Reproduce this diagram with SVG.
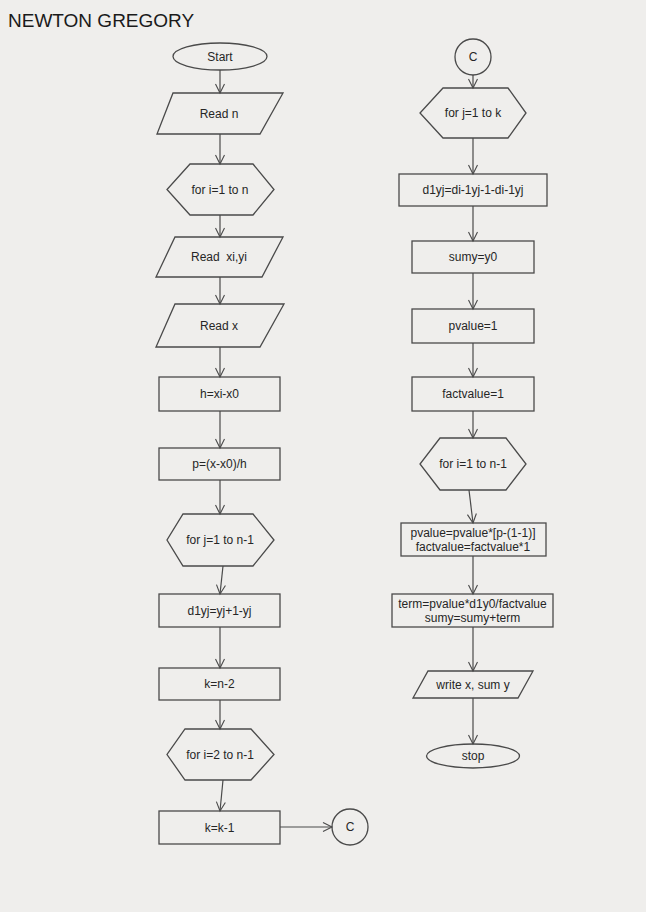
<svg xmlns="http://www.w3.org/2000/svg" width="646" height="912" viewBox="0 0 646 912">
<defs>
<marker id="arr" markerWidth="12" markerHeight="12" refX="10" refY="5" orient="auto" markerUnits="userSpaceOnUse">
<path d="M1,0.5 L10,5 L1,9.5" fill="none" stroke="#4a4a4a" stroke-width="1.1"/>
</marker>
<style>
.s{fill:none;stroke:#4a4a4a;stroke-width:1.3}
.t{font-family:"Liberation Sans",Arial,sans-serif;font-size:12px;fill:#262626;text-anchor:middle}
.c{fill:none;stroke:#4a4a4a;stroke-width:1.2;marker-end:url(#arr)}
</style>
</defs>
<rect width="646" height="912" fill="#efeeec"/>
<text x="8" y="27" style="font-family:'Liberation Sans',Arial,sans-serif;font-size:19px;fill:#1a1a1a">NEWTON GREGORY</text>

<g id="start"><ellipse class="s" cx="220" cy="56.5" rx="47" ry="13.5"/><text class="t" x="220" y="60.5">Start</text></g>
<g id="readn"><polygon class="s" points="173,93 283,93 260,134 157,134"/><text class="t" x="219" y="117.5">Read n</text></g>
<g id="fori1"><polygon class="s" points="190,164 253,164 274,189.5 253,215 190,215 167,189.5"/><text class="t" x="220" y="193.5">for i=1 to n</text></g>
<g id="readxy"><polygon class="s" points="175,237 283,237 262,277 156,277"/><text class="t" x="219" y="261" xml:space="preserve">Read  xi,yi</text></g>
<g id="readx"><polygon class="s" points="175,304 284,304 260,347 156,347"/><text class="t" x="219" y="330">Read x</text></g>
<g id="h"><rect class="s" x="159" y="377" width="121" height="34"/><text class="t" x="219.5" y="398">h=xi-x0</text></g>
<g id="p"><rect class="s" x="159" y="448" width="121" height="32"/><text class="t" x="219.5" y="468">p=(x-x0)/h</text></g>
<g id="forj"><polygon class="s" points="183,514 253,514 274,540 253,566 183,566 167,540"/><text class="t" x="220" y="544">for j=1 to n-1</text></g>
<g id="d1yj"><rect class="s" x="159" y="594" width="121" height="33"/><text class="t" x="219.5" y="614.5">d1yj=yj+1-yj</text></g>
<g id="k"><rect class="s" x="159" y="668" width="121" height="32"/><text class="t" x="219.5" y="688">k=n-2</text></g>
<g id="fori2"><polygon class="s" points="185,729 251,729 274,754.5 251,780 185,780 167,754.5"/><text class="t" x="220" y="758.5">for i=2 to n-1</text></g>
<g id="kk"><rect class="s" x="159" y="811" width="121" height="33"/><text class="t" x="219.5" y="831.5">k=k-1</text></g>
<g id="c1"><circle class="s" cx="350" cy="827" r="18"/><text class="t" x="350" y="831">C</text></g>

<g id="c2"><circle class="s" cx="473" cy="57" r="18"/><text class="t" x="473" y="61">C</text></g>
<g id="forjk"><polygon class="s" points="443,88 508,88 526,113 508,138 443,138 420,113"/><text class="t" x="473" y="117">for j=1 to k</text></g>
<g id="d1yj2"><rect class="s" x="399" y="174" width="148" height="32"/><text class="t" x="473" y="194">d1yj=di-1yj-1-di-1yj</text></g>
<g id="sumy"><rect class="s" x="412" y="241" width="122" height="32"/><text class="t" x="473" y="261">sumy=y0</text></g>
<g id="pv"><rect class="s" x="412" y="309" width="122" height="34"/><text class="t" x="473" y="330">pvalue=1</text></g>
<g id="fv"><rect class="s" x="412" y="377" width="122" height="34"/><text class="t" x="473" y="398">factvalue=1</text></g>
<g id="fori3"><polygon class="s" points="440,438 506,438 526,464 506,490 440,490 420,464"/><text class="t" x="473" y="468">for i=1 to n-1</text></g>
<g id="pvf"><rect class="s" x="401" y="523" width="145" height="33"/><text class="t" x="473" y="537">pvalue=pvalue*[p-(1-1)]</text><text class="t" x="473" y="551">factvalue=factvalue*1</text></g>
<g id="term"><rect class="s" x="392" y="594" width="161" height="33"/><text class="t" x="472.5" y="608">term=pvalue*d1y0/factvalue</text><text class="t" x="472.5" y="622">sumy=sumy+term</text></g>
<g id="write"><polygon class="s" points="428,671 533,671 518,698 413,698"/><text class="t" x="473" y="689">write x, sum y</text></g>
<g id="stop"><ellipse class="s" cx="473" cy="756" rx="46.5" ry="12"/><text class="t" x="473" y="760">stop</text></g>

<g id="connectors">
<line class="c" x1="220" y1="70" x2="220" y2="93"/>
<line class="c" x1="220" y1="134" x2="220" y2="164"/>
<line class="c" x1="220" y1="215" x2="220" y2="237"/>
<line class="c" x1="220" y1="277" x2="220" y2="304"/>
<line class="c" x1="220" y1="347" x2="220" y2="377"/>
<line class="c" x1="220" y1="411" x2="220" y2="448"/>
<line class="c" x1="220" y1="480" x2="220" y2="514"/>
<line class="c" x1="223" y1="566" x2="220" y2="594"/>
<line class="c" x1="220" y1="627" x2="220" y2="668"/>
<line class="c" x1="220" y1="700" x2="220" y2="729"/>
<line class="c" x1="223" y1="780" x2="220" y2="811"/>
<line class="c" x1="280" y1="827" x2="332" y2="827"/>
<line class="c" x1="473" y1="75" x2="473" y2="88"/>
<line class="c" x1="473" y1="138" x2="473" y2="174"/>
<line class="c" x1="473" y1="206" x2="473" y2="241"/>
<line class="c" x1="473" y1="273" x2="473" y2="309"/>
<line class="c" x1="473" y1="343" x2="473" y2="377"/>
<line class="c" x1="473" y1="411" x2="473" y2="438"/>
<line class="c" x1="469" y1="490" x2="473" y2="523"/>
<line class="c" x1="473" y1="556" x2="473" y2="594"/>
<line class="c" x1="473" y1="627" x2="473" y2="671"/>
<line class="c" x1="473" y1="698" x2="473" y2="744"/>
</g>
</svg>
